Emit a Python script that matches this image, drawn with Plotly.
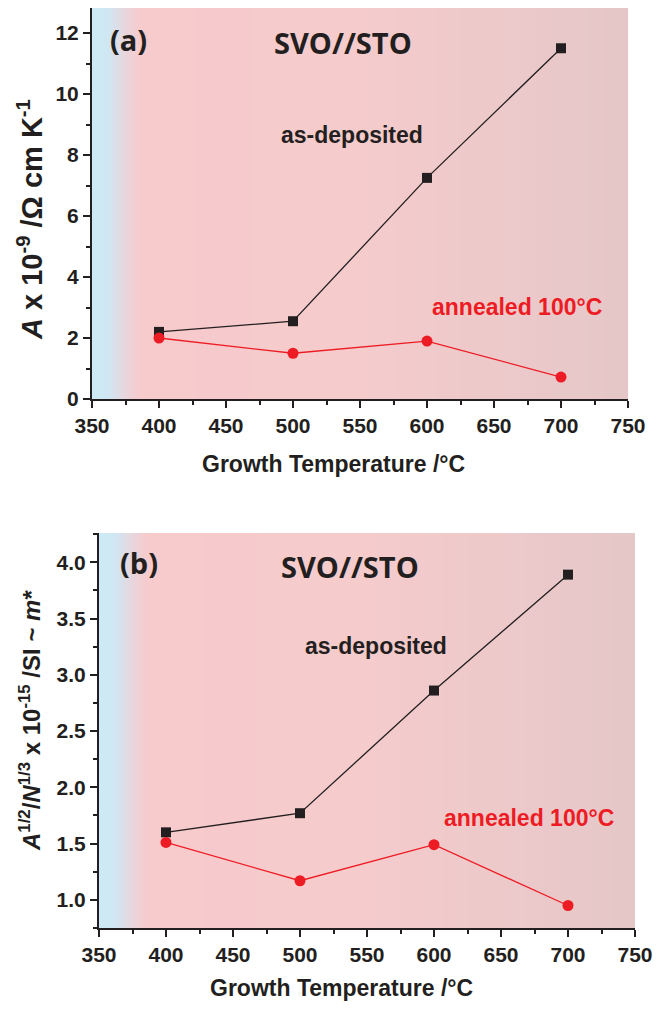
import numpy as np
import plotly.graph_objects as go

# ---------------- data ----------------
temps = [400, 500, 600, 700]
a_asdep = [2.2, 2.55, 7.25, 11.5]
a_anneal = [2.0, 1.5, 1.9, 0.72]
b_asdep = [1.60, 1.77, 2.86, 3.89]
b_anneal = [1.51, 1.17, 1.49, 0.95]
x_ticks = [350, 400, 450, 500, 550, 600, 650, 700, 750]
a_yticks = [0, 2, 4, 6, 8, 10, 12]
b_yticks = [1.0, 1.5, 2.0, 2.5, 3.0, 3.5, 4.0]

XR = [350, 750]
AYR = [0, 12.82]
BYR = [0.75, 4.26]

# page has an 8px body margin -> figure is 650x993 placed at (8,8)
OFF = 8
W, H = 666 - 2 * OFF, 1009 - 2 * OFF
def fx(px):
    return (px - OFF) / W
def fy(py):
    return 1 - (py - OFF) / H

BLACK = "#231f20"
RED = "#ed1c24"
TICKFONT = dict(family="Liberation Sans, Arial, sans-serif", size=21, color=BLACK, weight="bold")
LABFONT = "Liberation Sans, Arial, sans-serif"
CALFONT = "Open Sans, Lato, sans-serif"

# background gradient (blue edge -> pink -> greyish pink)
bg_scale = [
    [0.0, "rgb(205,233,245)"],
    [0.03, "rgb(207,231,243)"],
    [0.06, "rgb(230,215,222)"],
    [0.09, "rgb(247,202,204)"],
    [0.5, "rgb(245,203,204)"],
    [1.0, "rgb(229,199,200)"],
]
edges = np.arange(XR[0], XR[1] + 1, 1.0)
centers = (edges[:-1] + edges[1:]) / 2

fig = go.Figure()

def add_panel(xa, ya, yr, asdep, anneal):
    fig.add_trace(go.Heatmap(
        x=edges, y=yr, z=[centers], colorscale=bg_scale, zmin=XR[0], zmax=XR[1],
        showscale=False, hoverinfo="skip", xaxis=xa, yaxis=ya))
    fig.add_trace(go.Scatter(
        x=temps, y=asdep, mode="lines+markers", xaxis=xa, yaxis=ya,
        line=dict(color=BLACK, width=1.3),
        marker=dict(symbol="square", size=10, color=BLACK), showlegend=False))
    fig.add_trace(go.Scatter(
        x=temps, y=anneal, mode="lines+markers", xaxis=xa, yaxis=ya,
        line=dict(color=RED, width=1.3),
        marker=dict(symbol="circle", size=11, color=RED), showlegend=False))

add_panel("x", "y", AYR, a_asdep, a_anneal)
add_panel("x2", "y2", BYR, b_asdep, b_anneal)

dom_x1 = [fx(92), fx(628)]
dom_y1 = [fy(399), 1.0]
dom_x2 = [fx(99), fx(635)]
dom_y2 = [fy(928), fy(533)]

def xaxis_main(dom, anchor):
    return dict(domain=dom, anchor=anchor, range=XR, tickvals=x_ticks, automargin=False,
                ticks="outside", ticklen=7, tickwidth=2, tickcolor=BLACK,
                showline=True, linewidth=2, linecolor=BLACK, showgrid=False,
                zeroline=False, tickfont=TICKFONT,
                minor=dict(ticks="outside", dtick=25, tick0=350, ticklen=4,
                           tickwidth=2, tickcolor=BLACK, showgrid=False))

def yaxis_main(dom, anchor, yr, tv, fmt, mdt):
    return dict(domain=dom, anchor=anchor, range=yr, tickvals=tv, tickformat=fmt,
                automargin=False,
                ticks="outside", ticklen=7, tickwidth=2, tickcolor=BLACK,
                showline=True, linewidth=2, linecolor=BLACK, showgrid=False,
                zeroline=False, tickfont=TICKFONT,
                minor=dict(ticks="outside", dtick=mdt, ticklen=4,
                           tickwidth=2, tickcolor=BLACK, showgrid=False))

def xaxis_top(dom, over, anchor):
    return dict(domain=dom, overlaying=over, anchor=anchor, side="top", range=XR,
                automargin=False,
                tickvals=x_ticks, ticks="inside", ticklen=7, tickwidth=2,
                tickcolor=BLACK, showline=True, linewidth=2, linecolor=BLACK,
                showticklabels=False, showgrid=False, zeroline=False,
                minor=dict(ticks="inside", dtick=25, tick0=350, ticklen=4,
                           tickwidth=2, tickcolor=BLACK, showgrid=False))

def yaxis_right(dom, over, anchor, yr, tv, mdt):
    return dict(domain=dom, overlaying=over, anchor=anchor, side="right", range=yr,
                automargin=False,
                tickvals=tv, ticks="inside", ticklen=7, tickwidth=2,
                tickcolor=BLACK, showline=True, linewidth=2, linecolor=BLACK,
                showticklabels=False, showgrid=False, zeroline=False,
                minor=dict(ticks="inside", dtick=mdt, ticklen=4,
                           tickwidth=2, tickcolor=BLACK, showgrid=False))

fig.update_layout(
    width=W, height=H, margin=dict(l=0, r=0, t=0, b=0),
    paper_bgcolor="white", plot_bgcolor="white", showlegend=False,
    xaxis=xaxis_main(dom_x1, "y"),
    yaxis=yaxis_main(dom_y1, "x", AYR, a_yticks, "d", 1),
    xaxis2=xaxis_main(dom_x2, "y2"),
    yaxis2=yaxis_main(dom_y2, "x2", BYR, b_yticks, ".1f", 0.25),
    xaxis3=xaxis_top(dom_x1, "x", "y"),
    yaxis3=yaxis_right(dom_y1, "y", "x", AYR, a_yticks, 1),
    xaxis4=xaxis_top(dom_x2, "x2", "y2"),
    yaxis4=yaxis_right(dom_y2, "y2", "x2", BYR, b_yticks, 0.25),
)

ann = []
def txt(x, y, s, xref, yref, size, color=BLACK, family=LABFONT, angle=0):
    ann.append(dict(x=x, y=y, xref=xref, yref=yref, text=s, showarrow=False,
                    textangle=angle, xanchor="center", yanchor="middle",
                    font=dict(family=family, size=size, color=color, weight="bold")))

# panel (a)
txt(377, 11.8, "(a)", "x", "y", 29, family=CALFONT)
txt(537, 11.7, "SVO//STO", "x", "y", 29, family=CALFONT)
txt(544, 8.66, "as-deposited", "x", "y", 23)
txt(667, 3.02, "annealed 100°C", "x", "y", 23, color=RED)
# panel (b)
txt(380, 4.0, "(b)", "x2", "y2", 29, family=CALFONT)
txt(537, 3.96, "SVO//STO", "x2", "y2", 29, family=CALFONT)
txt(557, 3.255, "as-deposited", "x2", "y2", 23)
txt(671, 1.73, "annealed 100°C", "x2", "y2", 23, color=RED)

# axis titles
txt(fx(333), fy(464), "Growth Temperature /°C", "paper", "paper", 23)
txt(fx(341), fy(988), "Growth Temperature /°C", "paper", "paper", 23)
txt(fx(30), fy(220), "<i>A</i> x 10<sup>-9</sup> /Ω cm K<sup>-1</sup>",
    "paper", "paper", 29, angle=-90)
txt(fx(30), fy(721),
    "<i>A</i><sup>1/2</sup>/<i>N</i><sup>1/3</sup> x 10<sup>-15</sup> /SI ~ <i>m</i>*",
    "paper", "paper", 24, angle=-90)

fig.update_layout(annotations=ann)
fig.write_html("out.html")
